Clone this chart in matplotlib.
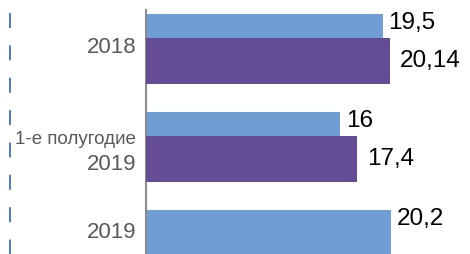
import matplotlib
matplotlib.use("Agg")
import matplotlib.pyplot as plt
from matplotlib.lines import Line2D

categories = ["2018", "1-е полугодие\n2019", "2019"]
series_a = [19.5, 16.0, 20.2]          # blue
series_b = [20.14, 17.4, None]         # purple
labels_a = ["19,5", "16", "20,2"]
labels_b = ["20,14", "17,4", None]

plt.rcParams["font.family"] = ["Liberation Sans", "DejaVu Sans"]

BLUE = "#6E9ED4"
PURPLE = "#654D96"
GRAY = "#595959"

fig = plt.figure(figsize=(4.7, 2.54), dpi=100)
ax = fig.add_axes([146 / 470, 0, 324 / 470, 1 - 10 / 254])

h = 0.47
off = 0.12
for i, v in enumerate(series_a):
    ax.barh(i - off, v, height=h, color=BLUE, zorder=2)
for i, v in enumerate(series_b):
    if v is not None:
        ax.barh(i + off, v, height=h, color=PURPLE, zorder=3)

for i, (v, t) in enumerate(zip(series_a, labels_a)):
    ax.annotate(t, (v, i - off - 0.15), xytext=(4, 0), textcoords="offset points",
                ha="left", va="center", fontsize=17.5, color="black")
for i, (v, t) in enumerate(zip(series_b, labels_b)):
    if v is not None:
        ax.annotate(t, (v, i + off), xytext=(7, 0), textcoords="offset points",
                    ha="left", va="center", fontsize=17.5, color="black")

ax.set_xlim(0, 26.7)
ax.set_ylim(2.09, -0.40)

# category labels: last line as tick label, preceding line as smaller text above
tick_pos = []
tick_txt = []
for i, cat in enumerate(categories):
    parts = cat.split("\n")
    centre = i if series_b[i] is not None else i - off
    if len(parts) > 1:
        tick_pos.append(centre + 0.15)
        ax.annotate(parts[0], xy=(0, centre - 0.075), xycoords=("axes fraction", "data"),
                    xytext=(-7, 0), textcoords="offset points", ha="right", va="center",
                    fontsize=13.5, color=GRAY)
    else:
        tick_pos.append(centre - 0.04)
    tick_txt.append(parts[-1])
ax.set_yticks(tick_pos)
ax.set_yticklabels(tick_txt, fontsize=16, color=GRAY)
ax.tick_params(axis="y", length=0, pad=7)
ax.set_xticks([])
for s in ["top", "right", "bottom"]:
    ax.spines[s].set_visible(False)
ax.spines["left"].set_color("#8C8C8C")
ax.spines["left"].set_linewidth(1.5)

# decorative dashed line at far left
lw = 1.4
fig.add_artist(Line2D([9.5 / 470, 9.5 / 470], [1 - 13 / 254, 0], transform=fig.transFigure,
                      color="#4A7CC7", linewidth=lw, dashes=(10.8 / lw, 12.5 / lw)))

fig.savefig("out.png", dpi=100)
